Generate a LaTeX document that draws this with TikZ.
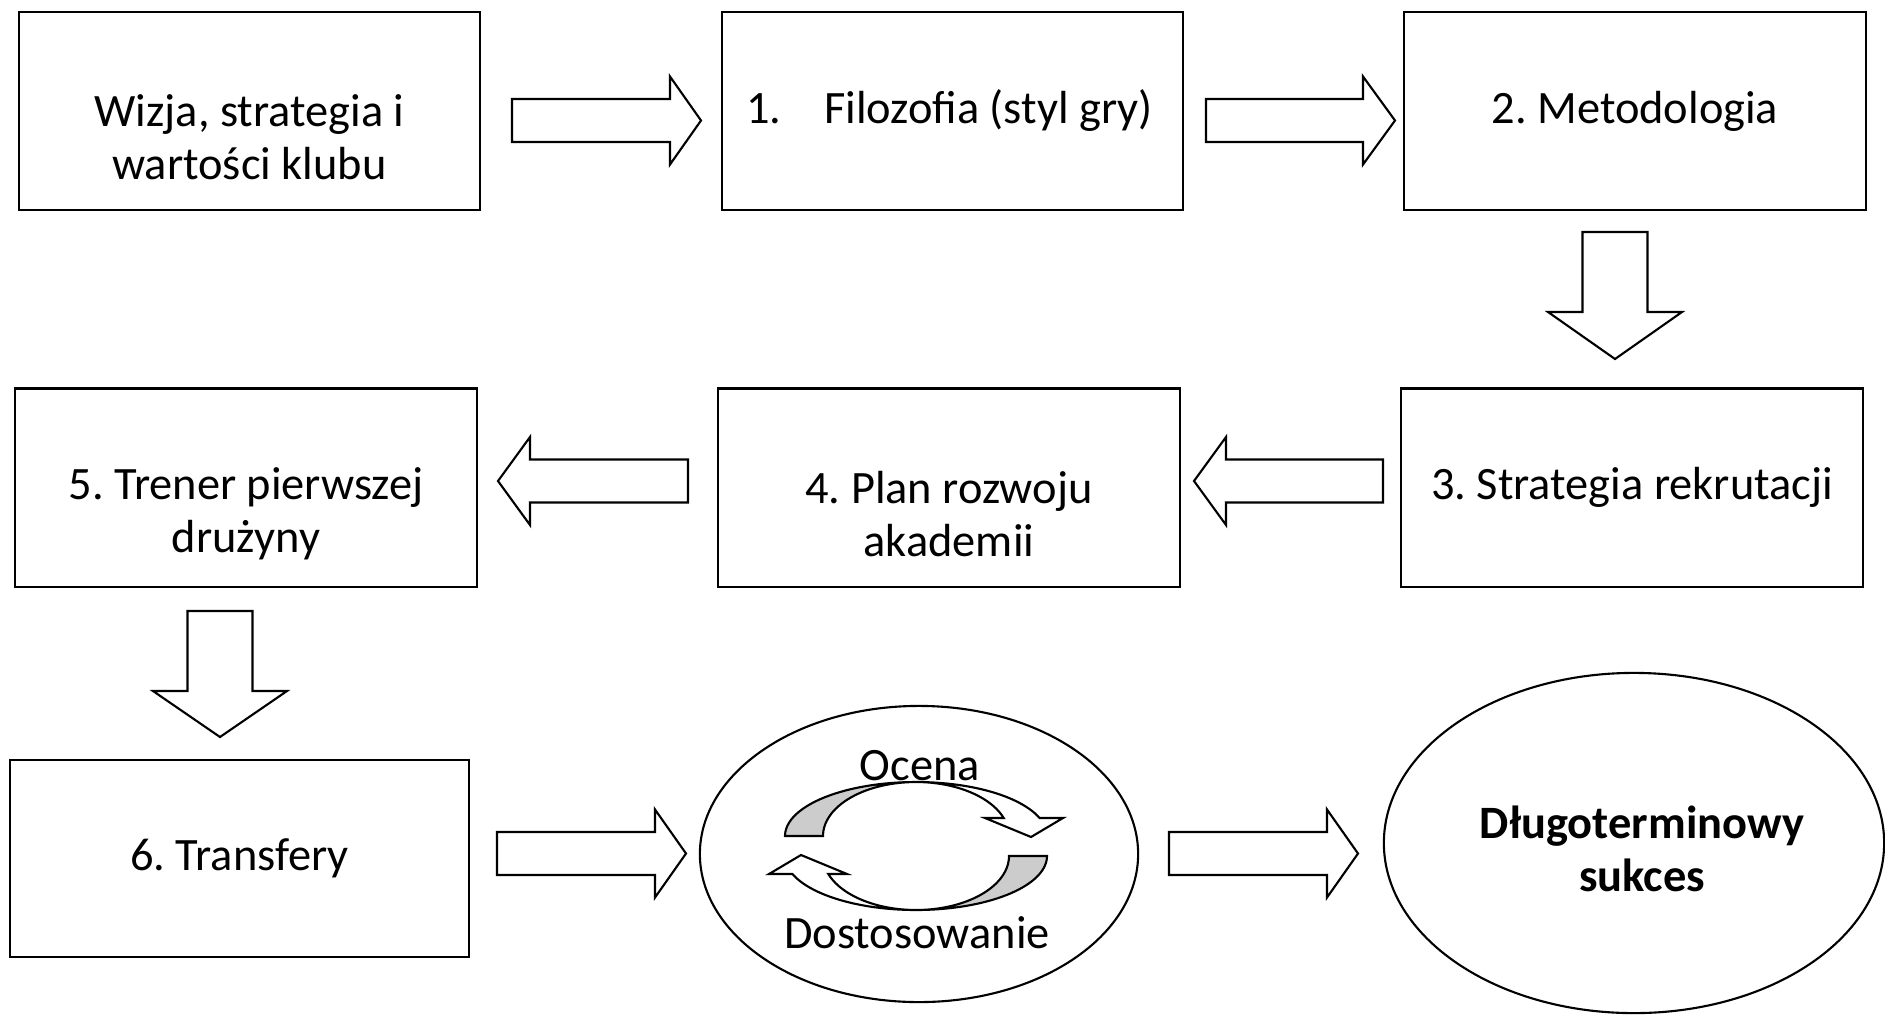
\documentclass[tikz,border=0pt]{standalone}
\usepackage{fontspec}
\setmainfont{Carlito}
\frenchspacing
\usetikzlibrary{calc,shapes.geometric}
\tikzset{
  box/.style={draw, line width=0.6pt, minimum width=4.61cm, minimum height=1.98cm, inner sep=0pt},
  txt/.style={font=\fontsize{13.2}{15.1}\selectfont, align=center, inner sep=0pt},
  btxt/.style={font=\fontsize{13.2}{15.1}\selectfont\bfseries, align=center, inner sep=0pt},
  blk/.style={draw, line width=0.6pt, fill=white, line join=miter},
  oval/.style={draw, ellipse, line width=0.6pt, inner sep=0pt},
  cyc/.style={line width=0.6pt, line join=miter},
}
% horizontal block arrow: shaft start x, head base x, tip x, centre y
\newcommand\hblk[4]{\draw[blk] (#1,#4-21.5) -- (#2,#4-21.5) -- (#2,#4-44) -- (#3,#4) -- (#2,#4+44) -- (#2,#4+21.5) -- (#1,#4+21.5) -- cycle;}
% vertical block arrow: centre x, shaft start y, head base y, tip y
\newcommand\vblk[4]{\draw[blk] (#1-32.5,#2) -- (#1+32.5,#2) -- (#1+32.5,#3) -- (#1+67,#3) -- (#1,#4) -- (#1-67,#3) -- (#1-32.5,#3) -- (#1-32.5,#2) -- cycle;}
% circular arrow half
\newcommand\cycpath[1]{\path[cyc,#1] plot[domain=180:19.5,samples=60,variable=\t] ({916+131*cos(\t)},{836-54*sin(\t)}) -- (1063,818) -- (1031,837) -- (985,818) -- plot[domain=19.5:180,samples=60,variable=\t] ({916+93*cos(\t)},{836-54*sin(\t)}) -- cycle;}
\newcommand\cycgray{\fill[black!20] plot[domain=180:90,samples=40,variable=\t] ({916+131*cos(\t)},{836-54*sin(\t)}) -- plot[domain=90:180,samples=40,variable=\t] ({916+93*cos(\t)},{836-54*sin(\t)}) -- cycle;}
\newcommand\cycarrow{\cycpath{fill=white}\cycgray\cycpath{draw}}
\begin{document}
\begin{tikzpicture}[x=0.01cm,y=-0.01cm]
\useasboundingbox (0,0) rectangle (1885,1015);
% boxes
\node[box] (vis) at (249.5,111) {};
\node[txt] (visT) at ($(vis.center)+(0,26.5)$) {Wizja, strategia i\\wartości klubu};
\node[box] (fil) at (952.5,111) {};
\node[txt] (filT) at ($(fil.center)+(-3,0)$) {1.\hspace{0.43cm}Filozofia (styl gry)};
\node[box] (met) at (1635,111) {};
\node[txt] (metT) at (met.center) {2. Metodologia};
\node[box] (rek) at (1632,487.5) {};
\node[txt] (rekT) at (rek.center) {3. Strategia rekrutacji};
\node[box] (aka) at (949,487.5) {};
\node[txt] (akaT) at ($(aka.center)+(0,26.5)$) {4. Plan rozwoju\\akademii};
\node[box] (tre) at (246,487.5) {};
\node[txt] (treT) at ($(tre.center)+(0,26.5)$) {5. Trener pierwszej\\drużyny};
\node[box, minimum width=4.59cm, minimum height=1.97cm] (tra) at (239.5,858.5) {};
\node[txt] (traT) at (tra.center) {6. Transfery};
% ellipses
\node[oval, minimum width=4.38cm, minimum height=2.96cm] (ocd) at (919,854) {};
\node[oval, minimum width=5.0cm, minimum height=3.40cm] (suc) at (1634,843) {};
% block arrows
\hblk{512}{670}{701}{120.5}
\hblk{1206}{1363}{1395}{120.5}
\vblk{1615}{232}{312}{359}
\hblk{1383}{1226}{1194}{481}
\hblk{688}{530}{498}{481}
\vblk{220}{611}{691}{737}
\hblk{497}{655}{686}{853.5}
\hblk{1169}{1327}{1358}{853.5}
% circular arrows
\cycarrow
\begin{scope}[rotate around={180:(916,846)}]
\cycarrow
\end{scope}
\node[txt, anchor=base] (ocT) at (920,780) {Ocena};
\node[txt, anchor=base] (doT) at (917,948) {Dostosowanie};
\node[btxt] (sucT) at ($(suc.center)+(8,6)$) {Długoterminowy\\sukces};
\end{tikzpicture}
\end{document}
